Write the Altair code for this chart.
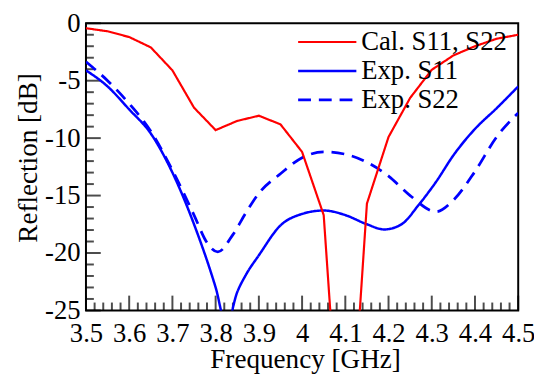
import altair as alt
import pandas as pd

# ---- data ----
series_names = ["Cal. S11, S22", "Exp. S11", "Exp. S22"]

cal_freq = [3.50, 3.55, 3.60, 3.65, 3.70, 3.75, 3.80, 3.85, 3.90, 3.95, 4.00,
            4.05, 4.10, 4.15, 4.20, 4.25, 4.30, 4.35, 4.40, 4.45, 4.50]
cal_db = [-0.43, -0.7, -1.2, -2.1, -4.1, -7.35, -9.3, -8.5, -8.05, -8.8, -11.2,
          -16.7, -44.0, -15.7, -9.9, -6.5, -4.05, -2.8, -2.0, -1.35, -1.0]

s11_freq = [3.50, 3.55, 3.60, 3.65, 3.70, 3.75, 3.80, 3.825, 3.85, 3.87, 3.90,
            3.95, 4.00, 4.05, 4.10, 4.15, 4.19, 4.23, 4.27, 4.31, 4.35, 4.40,
            4.45, 4.50]
s11_db = [-4.1, -5.5, -7.5, -9.6, -13.0, -17.5, -23.0, -26.3, -23.4, -21.9, -20.2,
          -17.6, -16.6, -16.3, -16.7, -17.5, -17.95, -17.5, -15.8, -13.8, -11.5, -9.2,
          -7.4, -5.5]

s22_freq = [3.50, 3.55, 3.60, 3.65, 3.70, 3.75, 3.78, 3.805, 3.84, 3.87, 3.90,
            3.95, 4.00, 4.05, 4.10, 4.15, 4.20, 4.25, 4.31, 4.35, 4.40, 4.45, 4.50]
s22_db = [-3.35, -5.0, -7.0, -9.4, -12.8, -16.7, -19.1, -19.9, -18.4, -16.5, -14.8,
          -13.1, -11.7, -11.2, -11.4, -12.1, -13.3, -15.0, -16.4, -15.4, -12.9, -9.9, -7.8]

x_major = [3.5, 3.6, 3.7, 3.8, 3.9, 4.0, 4.1, 4.2, 4.3, 4.4, 4.5]
x_minor = [3.52, 3.54, 3.56, 3.58, 3.62, 3.64, 3.66, 3.68, 3.72, 3.74, 3.76, 3.78,
           3.82, 3.84, 3.86, 3.88, 3.92, 3.94, 3.96, 3.98, 4.02, 4.04, 4.06, 4.08,
           4.12, 4.14, 4.16, 4.18, 4.22, 4.24, 4.26, 4.28, 4.32, 4.34, 4.36, 4.38,
           4.42, 4.44, 4.46, 4.48]
y_major = [0, -5, -10, -15, -20, -25]
y_minor = [-1, -2, -3, -4, -6, -7, -8, -9, -11, -12, -13, -14, -16, -17, -18, -19,
           -21, -22, -23, -24]

FONT = "'Liberation Serif', 'Times New Roman', Times, serif"

lines_df = pd.concat([
    pd.DataFrame({"freq": cal_freq, "db": cal_db, "series": series_names[0]}),
    pd.DataFrame({"freq": s11_freq, "db": s11_db, "series": series_names[1]}),
    pd.DataFrame({"freq": s22_freq, "db": s22_db, "series": series_names[2]}),
], ignore_index=True)

xscale = alt.Scale(domain=[3.5, 4.5], nice=False, zero=False)
yscale = alt.Scale(domain=[-25, 0], nice=False, zero=False)

# long horizontal path in a small symbol box: a 59px line whose box stays small
legend = alt.Legend(
    title=None, orient="none", legendX=231, legendY=5.5, padding=0,
    symbolType="M-4,0L4,0", symbolSize=217.6, symbolStrokeWidth=2.6,
    labelFont=FONT, labelFontSize=27, labelColor="black", labelOffset=21,
    labelLimit=400, rowPadding=1.3, labelBaseline="middle",
)

x_axis = alt.Axis(
    values=x_major, labelExpr="'' + datum.value", title="Frequency [GHz]",
    ticks=False, tickSize=0, domain=False, grid=False,
    labelFont=FONT, labelFontSize=27, labelColor="black", labelPadding=31,
    labelBaseline="alphabetic", labelFlush=False, labelOverlap=False,
    titleFont=FONT, titleFontSize=27.5, titleFontWeight="normal", titleColor="black",
    titleX=222, titleY=58, titleBaseline="alphabetic", titleAlign="center",
)
y_axis = alt.Axis(
    values=y_major, labelExpr="'' + datum.value", title="Reflection [dB]",
    ticks=False, tickSize=0, domain=False, grid=False,
    labelFont=FONT, labelFontSize=27, labelColor="black", labelPadding=6,
    labelOverlap=False,
    titleFont=FONT, titleFontSize=27.5, titleFontWeight="normal", titleColor="black",
    titleX=-50.5, titleY=136, titleAngle=270, titleBaseline="alphabetic",
    titleAlign="center",
)

enc = dict(
    x=alt.X("freq:Q", scale=xscale, axis=x_axis),
    y=alt.Y("db:Q", scale=yscale, axis=y_axis),
    color=alt.Color("series:N", scale=alt.Scale(domain=series_names,
                    range=["#ff0000", "#0000ff", "#0000ff"]), legend=legend),
    strokeDash=alt.StrokeDash("series:N", scale=alt.Scale(domain=series_names,
                              range=[[1, 0], [1, 0], [13, 8]]), legend=legend),
    strokeWidth=alt.StrokeWidth("series:N", scale=alt.Scale(domain=series_names,
                                range=[2.2, 2.8, 2.8]), legend=None),
)

cal_line = alt.Chart(lines_df).transform_filter(
    alt.datum.series == series_names[0]).mark_line(clip=True).encode(**enc)
exp_lines = alt.Chart(lines_df).transform_filter(
    alt.datum.series != series_names[0]).mark_line(clip=True, interpolate="monotone").encode(**enc)

def xticks(vals, length):
    df = pd.DataFrame({"freq": vals})
    return alt.Chart(df).mark_tick(orient="vertical", size=length, thickness=2,
                                   color="black", yOffset=-length / 2).encode(
        x=alt.X("freq:Q", scale=xscale, axis=x_axis),
        y=alt.YDatum(-25, type="quantitative", scale=yscale, axis=y_axis),
    )

def yticks(vals, length):
    df = pd.DataFrame({"db": vals})
    return alt.Chart(df).mark_tick(orient="horizontal", size=length, thickness=2,
                                   color="black", xOffset=length / 2).encode(
        y=alt.Y("db:Q", scale=yscale, axis=y_axis),
        x=alt.XDatum(3.5, type="quantitative", scale=xscale, axis=x_axis),
    )

chart = alt.layer(
    xticks(x_major, 15), xticks(x_minor, 8),
    yticks(y_major, 15), yticks(y_minor, 8),
    exp_lines, cal_line,
).properties(
    width=438, height=291,
    padding={"left": 79, "top": 13, "right": 16, "bottom": 66},
    autosize=alt.AutoSizeParams(type="none"),
).configure_view(stroke="black", strokeWidth=2)

chart.save("out.html", embed_options={"renderer": "svg", "actions": False})
